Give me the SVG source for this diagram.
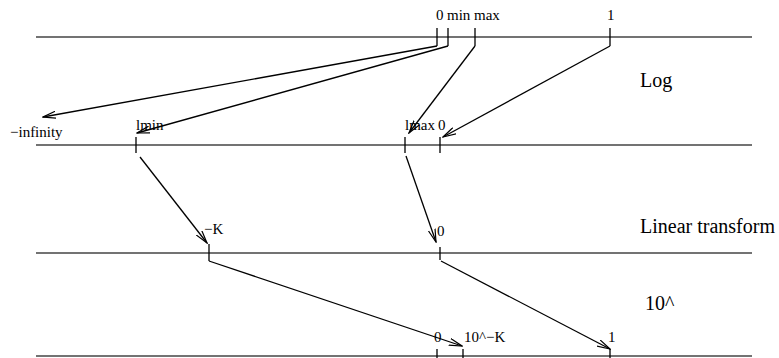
<svg xmlns="http://www.w3.org/2000/svg" width="779" height="358" viewBox="0 0 779 358">
<defs>
<style>
.axis{stroke:#444;stroke-width:1.6;fill:none}
.tick{stroke:#000;stroke-width:1.3;fill:none}
.arr{stroke:#000;stroke-width:1.3;fill:none;marker-end:url(#ah)}
text{font-family:"Liberation Serif","Times New Roman","DejaVu Serif",serif;fill:#000}
.lbl{font-size:15px}
.big{font-size:20px}
</style>
<marker id="ah" viewBox="0 0 14 8" refX="13" refY="4" markerWidth="14" markerHeight="8" markerUnits="userSpaceOnUse" orient="auto">
<path d="M0,0.5 L13,4 L0,7.5" fill="none" stroke="#000" stroke-width="1.2"/>
</marker>
</defs>
<g id="axis-input">
<line class="axis" x1="36" y1="37" x2="752" y2="37"/>
<line class="tick" x1="437" y1="28" x2="437" y2="46"/>
<line class="tick" x1="448" y1="28" x2="448" y2="46"/>
<line class="tick" x1="475" y1="28" x2="475" y2="46"/>
<line class="tick" x1="610" y1="28" x2="610" y2="46"/>
<text class="lbl" font-family="Liberation Serif, serif" x="436" y="20">0</text>
<text class="lbl" font-family="Liberation Serif, serif" x="447" y="20">min</text>
<text class="lbl" font-family="Liberation Serif, serif" x="474" y="20">max</text>
<text class="lbl" font-family="Liberation Serif, serif" x="607" y="20">1</text>
</g>
<g id="axis-log">
<line class="axis" x1="36" y1="145" x2="752" y2="145"/>
<line class="tick" x1="136" y1="137" x2="136" y2="153"/>
<line class="tick" x1="405" y1="137" x2="405" y2="153"/>
<line class="tick" x1="440" y1="137" x2="440" y2="153"/>
<text class="lbl" font-family="Liberation Serif, serif" x="10" y="137">−infinity</text>
<text class="lbl" font-family="Liberation Serif, serif" x="136" y="130">lmin</text>
<text class="lbl" font-family="Liberation Serif, serif" x="405" y="130">lmax</text>
<text class="lbl" font-family="Liberation Serif, serif" x="438" y="130">0</text>
</g>
<g id="axis-linear">
<line class="axis" x1="36" y1="253" x2="752" y2="253"/>
<line class="tick" x1="209" y1="244" x2="209" y2="261"/>
<line class="tick" x1="440" y1="247" x2="440" y2="260"/>
<text class="lbl" font-family="Liberation Serif, serif" x="204" y="234">−K</text>
<text class="lbl" font-family="Liberation Serif, serif" x="437" y="236">0</text>
</g>
<g id="axis-output">
<line class="axis" x1="36" y1="356" x2="752" y2="356"/>
<line class="tick" x1="437" y1="349" x2="437" y2="358"/>
<line class="tick" x1="463" y1="349" x2="463" y2="358"/>
<line class="tick" x1="610" y1="349" x2="610" y2="358"/>
<text class="lbl" font-family="Liberation Serif, serif" x="434" y="342">0</text>
<text class="lbl" font-family="Liberation Serif, serif" x="464" y="342">10^−K</text>
<text class="lbl" font-family="Liberation Serif, serif" x="608" y="342">1</text>
</g>
<g id="stage-labels">
<text class="big" font-family="Liberation Serif, serif" x="640" y="87">Log</text>
<text class="big" font-family="Liberation Serif, serif" x="640" y="233">Linear transform</text>
<text class="big" font-family="Liberation Serif, serif" x="645" y="310">10^</text>
</g>
<g id="connectors">
<line class="arr" x1="437" y1="46" x2="43" y2="117"/>
<line class="arr" x1="448" y1="46" x2="137" y2="133"/>
<line class="arr" x1="475" y1="46" x2="409" y2="133"/>
<line class="arr" x1="610" y1="46" x2="443" y2="137"/>
<line class="arr" x1="140" y1="157" x2="207" y2="243"/>
<line class="arr" x1="406" y1="156" x2="436" y2="242"/>
<line class="arr" x1="209" y1="261" x2="462" y2="346"/>
<line class="arr" x1="441" y1="261" x2="610" y2="349"/>
</g>
</svg>
